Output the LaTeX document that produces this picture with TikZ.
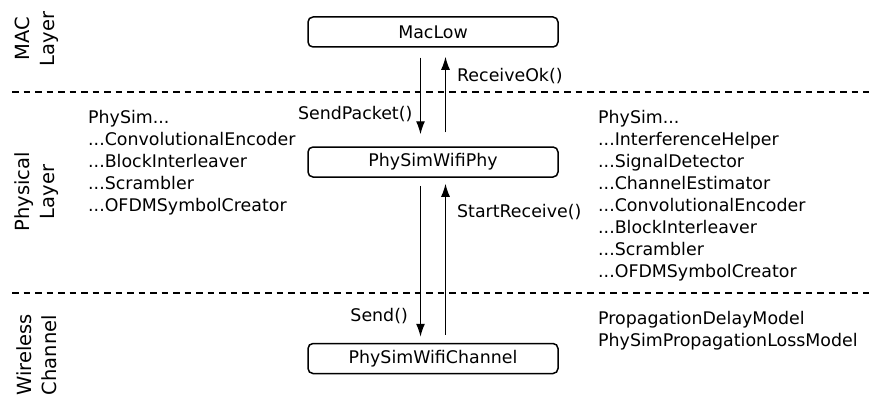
\documentclass[tikz,border=0pt]{standalone}
\usepackage{fontspec}
\setmainfont{DejaVu Sans}
\usetikzlibrary{arrows.meta,calc}
\begin{document}
\begin{tikzpicture}[x=1pt,y=-1pt,
  every node/.style={font=\fontsize{17.4}{21.9}\selectfont},
  blockbox/.style={draw,line width=1.5pt,rounded corners=5pt,minimum width=250pt,minimum height=30pt,inner sep=0pt},
  listtext/.style={align=left,anchor=north west,inner sep=0pt},
  layerlabel/.style={rotate=90,align=center,inner sep=0pt,font=\fontsize{19.5}{25}\selectfont},
  sep/.style={dashed,dash pattern=on 6.5pt off 5pt,line width=1.4pt},
  flow/.style={line width=1.3pt,-{Latex[length=13pt,width=9pt]}},
  lbl/.style={inner sep=0pt}]
\useasboundingbox (0,0) rectangle (869,396);
% separators
\coordinate (s1l) at (12,92); \coordinate (s1r) at (869,92);
\coordinate (s2l) at (12,293); \coordinate (s2r) at (869,293);
\draw[sep] (s1l) -- (s1r);
\draw[sep] (s2l) -- (s2r);
% layer labels
\node[layerlabel] (lmac) at (37,39) {MAC\\Layer};
\node[layerlabel] (lphy) at (37,192) {Physical\\Layer};
\node[layerlabel] (lchan) at (37,355) {Wireless\\Channel};
% blocks
\node[blockbox] (mac) at (433,32) {MacLow};
\node[blockbox] (phy) at (433,162) {PhySimWifiPhy};
\node[blockbox] (chan) at (433,358.5) {PhySimWifiChannel};
% arrows
\draw[flow] ($(mac.south)+(-12.5,10)$) -- node[lbl,left,pos=0.74,xshift=-7.5pt] (sendpacket) {SendPacket()} ($(phy.north)+(-12.5,-12)$);
\draw[flow] ($(phy.north)+(12.5,-14)$) -- node[lbl,right,pos=0.75,xshift=11pt] (receiveok) {ReceiveOk()} ($(mac.south)+(12.5,9)$);
\draw[flow] ($(phy.south)+(-12.5,8)$) -- node[lbl,left,pos=0.86,xshift=-12pt] (send) {Send()} ($(chan.north)+(-12.5,-6)$);
\draw[flow] ($(chan.north)+(12.5,-8)$) -- node[lbl,right,pos=0.81,xshift=11pt] (startreceive) {StartReceive()} ($(phy.south)+(12.5,6)$);
% lists
\node[listtext] (leftlist) at (88,110.5) {PhySim...\\...ConvolutionalEncoder\\...BlockInterleaver\\...Scrambler\\...OFDMSymbolCreator};
\node[listtext] (rightlist) at (598,110.5) {PhySim...\\...InterferenceHelper\\...SignalDetector\\...ChannelEstimator\\...ConvolutionalEncoder\\...BlockInterleaver\\...Scrambler\\...OFDMSymbolCreator};
\node[listtext] (chanlist) at (598,311.5) {PropagationDelayModel\\PhySimPropagationLossModel};
\end{tikzpicture}
\end{document}
